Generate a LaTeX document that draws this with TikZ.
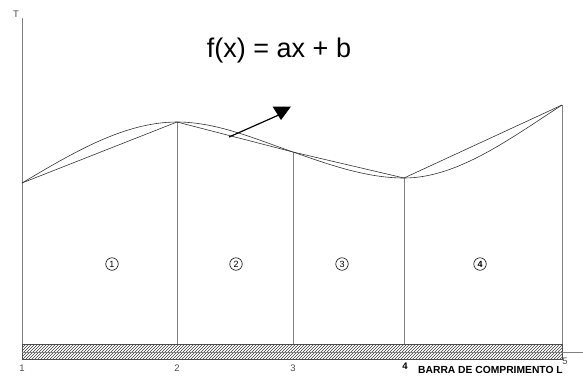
\documentclass[tikz,border=0pt]{standalone}
\usepackage{fontspec}
\setmainfont{Liberation Sans}
\usetikzlibrary{patterns}
\tikzset{
  guide/.style={draw=black!50,line width=0.7pt},
  wire/.style={draw=black!80,line width=0.6pt},
  seglabel/.style={circle,draw=black,line width=0.6pt,inner sep=0.6pt,minimum size=12.5pt,font=\fontsize{9}{9}\selectfont},
  ticklabel/.style={text=black!70,font=\fontsize{9.5}{9.5}\selectfont,inner sep=0pt}
}
\begin{document}
\begin{tikzpicture}[x=1pt,y=-1pt]
	\useasboundingbox (0,0) rectangle (583,376);
	% points of the bar
	\coordinate (p1) at (22,183);
	\coordinate (p2) at (177,122);
	\coordinate (p3) at (293,152);
	\coordinate (p4) at (404,178);
	\coordinate (p5) at (562,105);
	\coordinate (b1) at (22,344);
	\coordinate (b2) at (177,344);
	\coordinate (b3) at (293,344);
	\coordinate (b4) at (404,344);
	\coordinate (b5) at (562,344);
	% axis
	\coordinate (top) at (22,18);
	\draw[guide] (top) -- (22,359);
	\node[ticklabel] at (16,14) {T};
	% bar
	\draw[black!70,line width=0.5pt,pattern=north east lines,pattern color=black!75] (22,344) rectangle (562,359);
	\coordinate (xend) at (583,352);
	\draw[guide] (22,352) -- (xend);
	% verticals
	\foreach \i in {2,3,4,5}
		\draw[guide] (p\i) -- (b\i);
	% chords
	\draw[wire] (p1) -- (p2) -- (p3) -- (p4) -- (p5);
	% curve
	\draw[wire] (p1) .. controls (74,152) and (125,122) .. (p2)
		.. controls (216,122) and (254,138.4) .. (p3)
		.. controls (330,165) and (367,178) .. (p4)
		.. controls (457,178) and (509,139.5) .. (p5);
	% formula
	\node (fx) at (279,51) {\fontsize{27}{27}\selectfont f(x) = ax + b};
	\coordinate (arrfrom) at (229,137);
	\coordinate (arrto) at (281,114);
	\draw[line width=1.2pt] (arrfrom) -- (arrto);
	\fill (272.5,106.5) -- (291,106.5) -- (281,120) -- cycle;
	% segments
	\node[seglabel] (s1) at (112,264) {1};
	\node[seglabel] (s2) at (236,264) {2};
	\node[seglabel] (s3) at (342,264) {3};
	\node[seglabel] (s4) at (480,264) {\textbf{4}};
	% node numbers
	\node[ticklabel] (n1) at (22,368) {1};
	\node[ticklabel] (n2) at (177,368) {2};
	\node[ticklabel] (n3) at (293,368) {3};
	\node[ticklabel,text=black] (n4) at (405,366) {\textbf{4}};
	\node[ticklabel] (n5) at (565,361) {5};
	\node[anchor=west,inner sep=0pt,font=\fontsize{10.3}{10.3}\selectfont\bfseries] (barra) at (418,370) {BARRA DE COMPRIMENTO L};
\end{tikzpicture}
\end{document}
